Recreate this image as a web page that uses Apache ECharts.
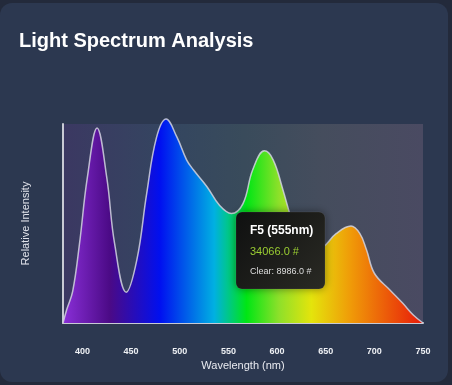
<!DOCTYPE html>
<html>
<head>
<meta charset="utf-8">
<script src="https://cdn.jsdelivr.net/npm/echarts@6/dist/echarts.min.js"></script>
<style>
html,body{margin:0;padding:0;background:#232a3b;}
#c{width:452px;height:385px;}
</style>
</head>
<body>
<div id="c"></div>
<script>
const wavelengths = [380, 384, 390, 397, 405, 415, 425, 433, 445, 456, 466, 476, 486, 497, 507, 514, 528, 541, 553, 565, 575, 587, 596, 606, 615, 625, 634, 647, 661, 676, 685, 692, 700, 716, 729, 740, 750];
const intensity   = [0, 7, 16, 40, 73, 98, 73, 40, 15.5, 32, 65, 93, 102.5, 93.5, 82, 77, 68.5, 59, 55, 60, 77, 86.5, 82, 67, 52, 40, 35, 38, 45, 48.7, 45, 36.7, 25, 16.6, 10, 4, 0];
const xTicks = [400, 450, 500, 550, 600, 650, 700, 750];
const tipTitle = 'F5 (555nm)';
const tipValue = '34066.0 #';
const tipClear = 'Clear: 8986.0 #';

const chart = echarts.init(document.getElementById('c'), null, {renderer: 'canvas'});
const FONT = 'Liberation Sans, Arial, sans-serif';
const TX = 236, TY = 212;
chart.setOption({
  backgroundColor: '#232a3b',
  animation: false,
  title: {
    text: 'Light Spectrum Analysis',
    left: 19, top: 31, padding: 0,
    textStyle: {color: '#ffffff', fontSize: 20, fontWeight: 'bold', fontFamily: FONT}
  },
  grid: {
    left: 63, right: 29, top: 124, bottom: 62,
    show: true, borderWidth: 0,
    backgroundColor: new echarts.graphic.LinearGradient(0, 0, 1, 0, [
      {offset: 0, color: '#3b3862'},
      {offset: 0.3, color: '#344660'},
      {offset: 0.5, color: '#394b5b'},
      {offset: 0.72, color: '#454d5d'},
      {offset: 1, color: '#4a4a62'}
    ])
  },
  xAxis: {
    type: 'value', min: 380, max: 750,
    name: 'Wavelength (nm)', nameLocation: 'middle', nameGap: 33,
    nameTextStyle: {color: '#e8eaf0', fontSize: 11, fontFamily: FONT},
    axisLine: {show: true, lineStyle: {color: '#c8cad4', width: 2}},
    axisTick: {show: false},
    splitLine: {show: false},
    axisLabel: {customValues: xTicks, color: '#eef0f4', fontSize: 9, fontWeight: 'bold', margin: 24, fontFamily: FONT}
  },
  yAxis: {
    type: 'value', min: 0, max: 100,
    name: 'Relative Intensity', nameLocation: 'middle', nameGap: 32, nameRotate: 90,
    nameTextStyle: {color: '#e0e2ea', fontSize: 11, fontFamily: FONT},
    axisLine: {show: true, lineStyle: {color: '#c8cad4', width: 2}},
    axisTick: {show: false},
    axisLabel: {show: false},
    splitLine: {show: false}
  },
  series: [{
    type: 'line',
    data: wavelengths.map((w, i) => [w, intensity[i]]),
    smooth: 0.4,
    clip: false,
    showSymbol: false,
    lineStyle: {color: 'rgba(210,212,224,0.85)', width: 1.5},
    areaStyle: {
      opacity: 1,
      color: new echarts.graphic.LinearGradient(0, 0, 1, 0, [
        {offset: 0, color: '#8a2fd8'},
        {offset: 0.13, color: '#4b0a86'},
        {offset: 0.27, color: '#0010f0'},
        {offset: 0.42, color: '#00b0e2'},
        {offset: 0.51, color: '#00e614'},
        {offset: 0.6, color: '#8ee02a'},
        {offset: 0.69, color: '#e4e40c'},
        {offset: 0.8, color: '#f09a08'},
        {offset: 1, color: '#e81a0a'}
      ])
    }
  }],
  graphic: [
    {type: 'rect', z: -10, silent: true, shape: {x: 0, y: 3, width: 448, height: 379, r: 12}, style: {fill: '#2c3850'}},
    {type: 'rect', z: 100, shape: {x: TX, y: TY, width: 89, height: 77, r: 6},
      style: {fill: new echarts.graphic.LinearGradient(0, 0, 1, 1, [
        {offset: 0, color: '#0f1010'}, {offset: 1, color: '#2a2a24'}]),
        shadowBlur: 8, shadowColor: 'rgba(0,0,0,0.45)', stroke: 'rgba(255,255,255,0.08)', lineWidth: 1}},
    {type: 'text', z: 101, x: TX + 14, y: TY + 19, style: {text: tipTitle, fill: '#ffffff', font: 'bold 12px ' + FONT, verticalAlign: 'middle'}},
    {type: 'text', z: 101, x: TX + 14, y: TY + 40, style: {text: tipValue, fill: '#9acd32', font: '11px ' + FONT, verticalAlign: 'middle'}},
    {type: 'text', z: 101, x: TX + 14, y: TY + 60, style: {text: tipClear, fill: '#dddddd', font: '9px ' + FONT, verticalAlign: 'middle'}}
  ]
});
</script>
</body>
</html>
